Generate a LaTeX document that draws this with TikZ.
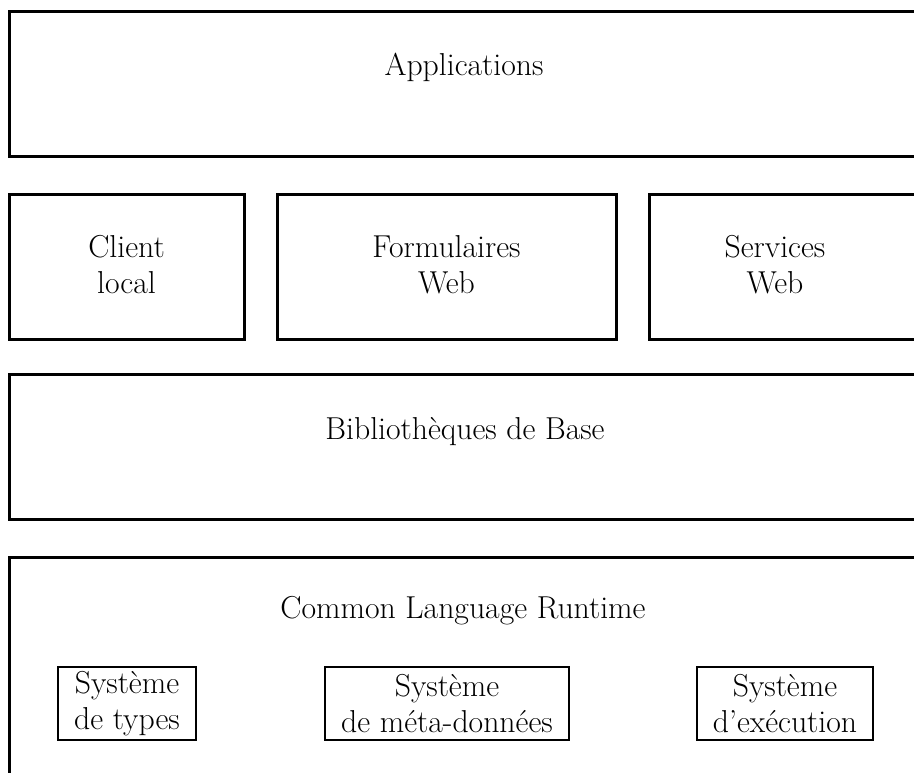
\documentclass[tikz,border=0pt]{standalone}
\begin{document}
\begin{tikzpicture}[x=1pt,y=-1pt,
  box/.style={draw=black,line width=3pt},
  txt/.style={font=\fontsize{31.7}{36}\selectfont,align=center,inner sep=0pt},
  inner/.style={draw=black,line width=2.5pt,inner sep=0pt}]
\useasboundingbox (0,0) rectangle (914,772);
\clip (0,0) rectangle (914,772);
% outer boxes
\draw[box] (9,11) rectangle (940,156);
\draw[box] (9,194) rectangle (244,339);
\draw[box] (277,194) rectangle (616,339);
\draw[box] (649,194) rectangle (940,339);
\draw[box] (9,374) rectangle (940,519);
\draw[box] (9,557) rectangle (940,800);
% inner boxes
\draw[inner] (58,667) rectangle (196,740);
\draw[inner] (325,667) rectangle (569,740);
\draw[inner] (697,667) rectangle (873,740);
% texts
\node[txt,anchor=base] (app) at (464,75) {Applications};
\node[txt] (cl) at (126.5,265) {Client\\local};
\node[txt] (fw) at (446.5,265) {Formulaires\\Web};
\node[txt] (sw) at (775,265) {Services\\Web};
\node[txt,anchor=base] (bib) at (465,439) {Biblioth\`eques de Base};
\node[txt,anchor=base] (clr) at (463,618) {Common Language Runtime};
\node[txt] (st) at (127,704) {Syst\`eme\\de types};
\node[txt] (sm) at (447,704) {Syst\`eme\\de m\'eta-donn\'ees};
\node[txt] (se) at (785,704) {Syst\`eme\\d'ex\'ecution};
\end{tikzpicture}
\end{document}
